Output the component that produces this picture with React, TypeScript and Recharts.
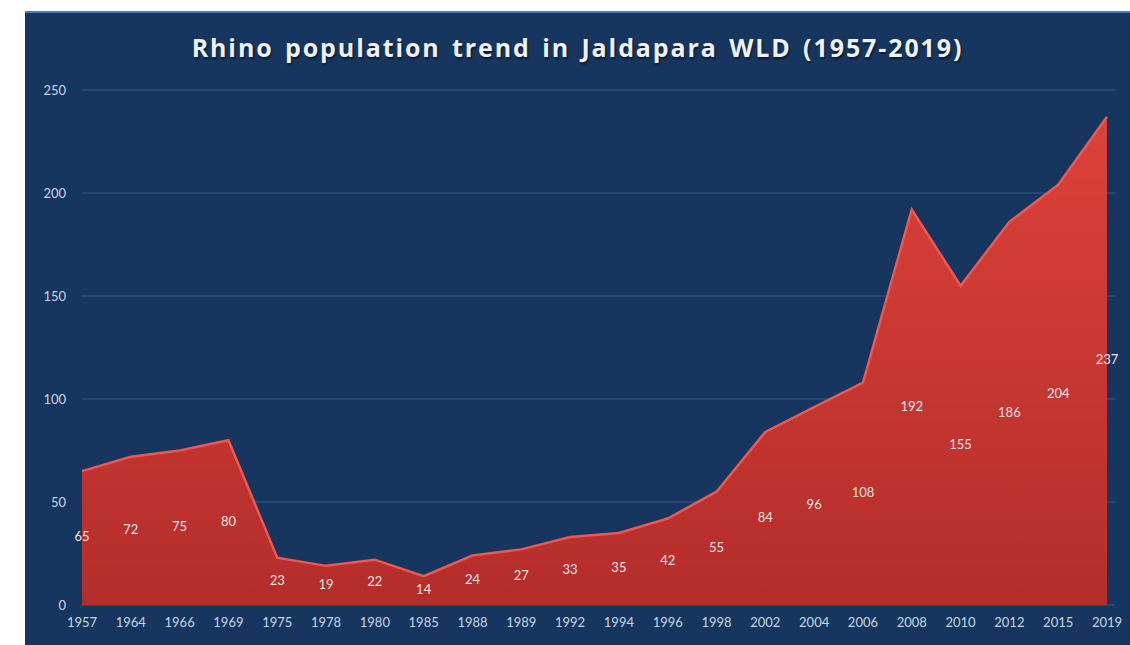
import React from "react";
import { AreaChart, Area, XAxis, YAxis, CartesianGrid, LabelList } from "recharts";

const years = ["1957","1964","1966","1969","1975","1978","1980","1985","1988","1989","1992","1994","1996","1998","2002","2004","2006","2008","2010","2012","2015","2019"];
const rhinos = [65,72,75,80,23,19,22,14,24,27,33,35,42,55,84,96,108,192,155,186,204,237];
const yTicks = [0,50,100,150,200,250];

const data = years.map((y, i) => ({ year: y, rhinos: rhinos[i] }));

const W = 1105;
const H = 634;
const TOP = 79;
const BOTTOM = 40;
const BASE = H - BOTTOM;

const MidLabel = (props: any) => {
  const { x, y, value } = props;
  if (x == null || y == null) return null;
  return (
    <text x={x} y={(y + BASE) / 2} textAnchor="middle" dominantBaseline="middle" fill="#f3e3e3" fontSize={13} fontFamily="Lato, 'Open Sans', sans-serif">
      {value}
    </text>
  );
};

export default function App() {
  return (
    <div style={{ position: "absolute", left: 25, top: 11, width: W, height: H, background: "#16355f", borderTop: "2px solid #4f7fb8", boxSizing: "border-box" }}>
      <div style={{ position: "absolute", left: 0, top: 17, width: W, textAlign: "center", color: "#eef1f5", fontFamily: "'Open Sans', sans-serif", fontWeight: 700, fontSize: 25, letterSpacing: 1.9, wordSpacing: 3, textShadow: "1px 2px 2px rgba(0,0,0,0.5)" }}>
        Rhino population trend in Jaldapara WLD (1957-2019)
      </div>
      <div style={{ position: "absolute", left: 0, top: -2 }}>
        <AreaChart width={W} height={H} data={data} margin={{ top: TOP, right: 15, left: 0, bottom: 10 }}>
          <defs>
            <linearGradient id="redFill" x1="0" y1="0" x2="0" y2="1">
              <stop offset="0%" stopColor="#dc4139" />
              <stop offset="100%" stopColor="#b42d2b" />
            </linearGradient>
          </defs>
          <CartesianGrid vertical={false} stroke="#2c4d7a" strokeWidth={1.5} />
          <XAxis dataKey="year" axisLine={false} tickLine={false} tickMargin={7} padding={{ left: 0, right: 8 }} height={30} interval={0}
            tick={{ fill: "#c9d5e4", fontSize: 13, fontFamily: "Lato, 'Open Sans', sans-serif" }} />
          <YAxis domain={[0, 250]} ticks={yTicks} axisLine={false} tickLine={false} width={57} tickMargin={10}
            tick={{ fill: "#c9d5e4", fontSize: 13, fontFamily: "Lato, 'Open Sans', sans-serif" }} />
          <Area type="linear" dataKey="rhinos" stroke="#ec5852" strokeWidth={2.5} fill="url(#redFill)" fillOpacity={1} isAnimationActive={false}>
            <LabelList dataKey="rhinos" content={<MidLabel />} />
          </Area>
        </AreaChart>
      </div>
    </div>
  );
}
